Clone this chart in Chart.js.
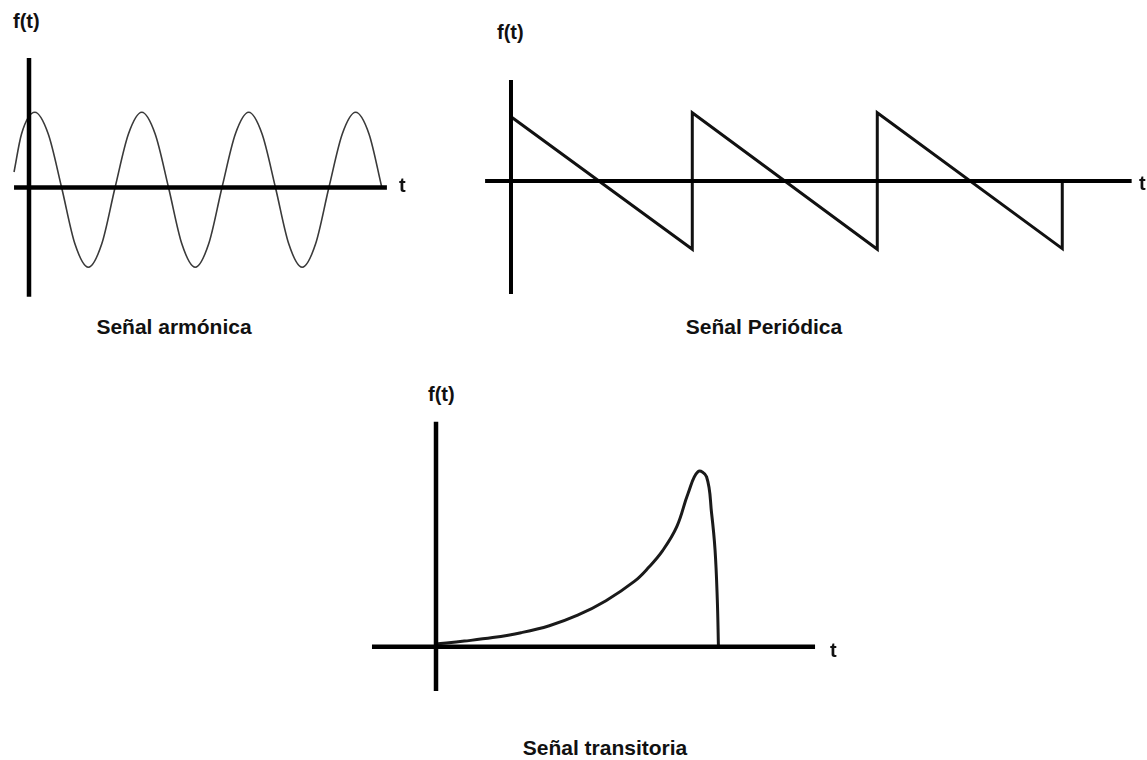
<!DOCTYPE html>
<html>
<head>
<meta charset="utf-8">
<script src="https://cdn.jsdelivr.net/npm/chart.js@4.4.1/dist/chart.umd.min.js"></script>
<style>
  html, body { margin: 0; padding: 0; background: #ffffff; }
  body { width: 1147px; height: 760px; position: relative; overflow: hidden; }
  canvas { position: absolute; }
  .lbl { position: absolute; font-family: "Liberation Sans", Arial, sans-serif; font-weight: bold;
         font-size: 20px; line-height: 1; color: #111; white-space: nowrap; }
  .cap { position: absolute; width: 300px; text-align: center; font-family: "Liberation Sans", Arial, sans-serif;
         font-weight: bold; font-size: 21px; line-height: 1; color: #111; white-space: nowrap; }
</style>
</head>
<body>
<canvas id="c1" width="420" height="270" style="left:0px;top:40px;"></canvas>
<canvas id="c2" width="677" height="250" style="left:470px;top:60px;"></canvas>
<canvas id="c3" width="500" height="300" style="left:360px;top:410px;"></canvas>

<div class="lbl" style="left:13px;top:11px;">f(t)</div>
<div class="lbl" style="left:399px;top:175px;">t</div>
<div class="cap" style="left:24px;top:316px;">Señal armónica</div>

<div class="lbl" style="left:497px;top:22px;">f(t)</div>
<div class="lbl" style="left:1139px;top:173px;">t</div>
<div class="cap" style="left:614px;top:316px;">Señal Periódica</div>

<div class="lbl" style="left:428px;top:384px;">f(t)</div>
<div class="lbl" style="left:830px;top:640px;">t</div>
<div class="cap" style="left:455px;top:737px;">Señal transitoria</div>

<script>
// ---------- Data ----------
// Señal armónica (sine), t in quarter-period units, f in amplitude units
const sineT = [-0.56, -0.28, 0.22, 0.72, 1.22, 1.72, 2.22, 2.72, 3.22, 3.72,
               4.22, 4.72, 5.22, 5.72, 6.22, 6.72, 7.22, 7.72,
               8.22, 8.72, 9.22, 9.72, 10.22, 10.72, 11.22, 11.72,
               12.22, 12.72, 13.2];
const sineF = [0.2, 0.69, 0.97, 0.69, 0.0, -0.73, -1.03, -0.73, 0.0, 0.69,
               0.97, 0.69, 0.0, -0.73, -1.03, -0.73, 0.0, 0.69,
               0.97, 0.69, 0.0, -0.73, -1.03, -0.73, 0.0, 0.69,
               0.97, 0.69, 0.0];
const axis1T = [-0.56, 13.39];   // horizontal axis extent (t)
const axis1F = [-1.41, 1.67];    // vertical axis extent (f)

// Señal Periódica (sawtooth), t in periods
const sawT = [0, 0.98, 0.98, 1.98, 1.98, 2.98, 2.98];
const sawF = [0.94, -1.0, 1.0, -1.0, 1.0, -0.99, 0.0];
const axis2T = [-0.14, 3.355];
const axis2F = [-1.654, 1.479];

// Señal transitoria
const transT = [0, 1, 2, 3, 4, 5, 6, 7, 7.5, 8, 8.5, 8.9, 9.25, 9.55, 9.73, 9.85, 9.93, 9.97];
const transF = [0.15, 0.32, 0.52, 0.8, 1.2, 1.8, 2.63, 3.73, 4.52, 5.49, 6.86, 8.77, 10.0, 9.71, 7.6, 5.53, 2.67, 0.0];
const axis3T = [-2.26, 13.38];
const axis3F = [-2.53, 12.86];

// ---------- helpers ----------
function pts(xs, ys) { return xs.map((x, i) => ({ x: x, y: ys[i] })); }

function makeChart(id, sig, axT, axF, range, sigStyle, axisWidth) {
  const ctx = document.getElementById(id);
  return new Chart(ctx, {
    type: 'line',
    data: {
      datasets: [
        { data: [{ x: axT[0], y: 0 }, { x: axT[1], y: 0 }], borderColor: '#000', borderWidth: axisWidth,
          pointRadius: 0, tension: 0, order: 0 },
        { data: [{ x: 0, y: axF[0] }, { x: 0, y: axF[1] }], borderColor: '#000', borderWidth: axisWidth,
          pointRadius: 0, tension: 0, order: 0 },
        Object.assign({ data: sig, pointRadius: 0, order: 1 }, sigStyle)
      ]
    },
    options: {
      responsive: false,
      animation: false,
      devicePixelRatio: 1,
      clip: false,
      layout: { padding: 0 },
      plugins: { legend: { display: false }, tooltip: { enabled: false }, title: { display: false } },
      events: [],
      scales: {
        x: { type: 'linear', display: false, min: range[0], max: range[1] },
        y: { type: 'linear', display: false, min: range[2], max: range[3] }
      }
    }
  });
}

makeChart('c1', pts(sineT, sineF), axis1T, axis1F, [-1.085, 14.628, -1.581, 1.903],
  { borderColor: '#3a3a3a', borderWidth: 1.6, cubicInterpolationMode: 'monotone' }, 4.5);

makeChart('c2', pts(sawT, sawF), axis2T, axis2F, [-0.2216, 3.438, -1.889, 1.772],
  { borderColor: '#111', borderWidth: 3, tension: 0, borderJoinStyle: 'miter' }, 4);

makeChart('c3', pts(transT, transF), axis3T, axis3F, [-2.683, 14.967, -3.617, 13.526],
  { borderColor: '#1a1a1a', borderWidth: 3, tension: 0.4 }, 4.5);
</script>
</body>
</html>
